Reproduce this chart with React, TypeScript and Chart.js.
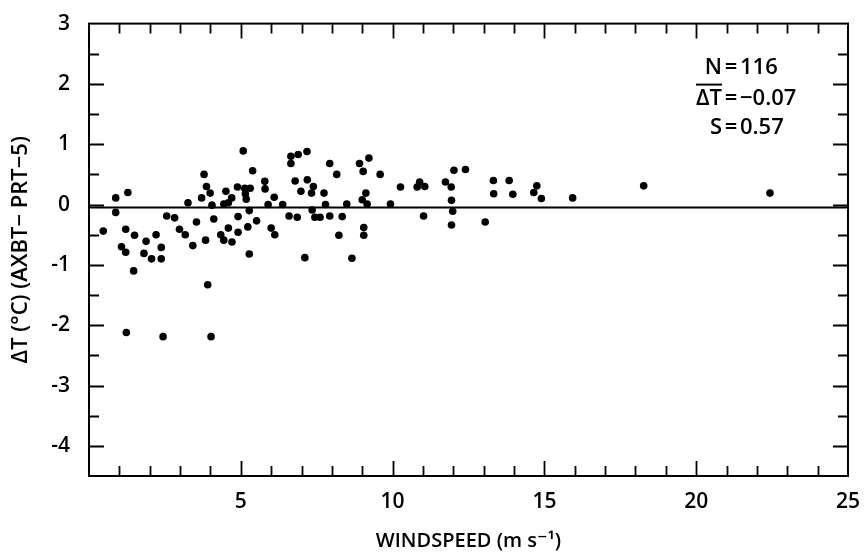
import React, { useEffect, useRef } from "react";
import { Chart, registerables } from "chart.js";

Chart.register(...registerables);

// Wind speed (m s^-1) of each observation
const windspeed = [
  0.47, 0.88, 0.88, 1.28, 1.21, 1.07, 1.21, 1.5, 1.47, 1.88,
  1.81, 2.06, 2.21, 2.38, 2.38, 2.56, 2.82, 2.98, 3.17, 3.26,
  3.42, 3.54, 3.71, 3.79, 3.87, 3.99, 4.05, 3.84, 4.11, 3.91,
  4.34, 4.44, 4.59, 4.51, 4.44, 4.59, 4.7, 4.71, 4.91, 4.91,
  4.89, 5.08, 5.15, 5.18, 5.31, 5.13, 5.39, 5.28, 5.23, 5.28,
  5.52, 5.79, 5.8, 5.9, 6.0, 6.12, 6.1, 6.38, 6.59, 6.86,
  6.65, 6.65, 6.89, 6.79, 6.98, 7.18, 7.19, 7.33, 7.39, 7.11,
  7.35, 7.44, 7.61, 7.74, 7.79, 7.93, 7.93, 8.16, 8.23, 8.34,
  8.49, 8.66, 8.91, 9.03, 9.22, 9.12, 9.0, 9.16, 9.05, 9.05,
  9.59, 9.93, 10.26, 10.89, 10.81, 11.06, 11.02, 11.74, 11.93, 12.02,
  12.4, 11.94, 11.98, 11.94, 13.05, 13.32, 13.84, 13.33, 13.96, 14.75,
  14.65, 14.9, 15.93, 18.27, 22.43, 1.23, 2.44, 4.02,
];

// Temperature difference AXBT - PRT-5 (deg C) of each observation
const deltaT = [
  -0.44, 0.11, -0.13, 0.2, -0.41, -0.7, -0.79, -0.51, -1.1, -0.61,
  -0.81, -0.9, -0.5, -0.71, -0.9, -0.19, -0.22, -0.41, -0.5, 0.03,
  -0.68, -0.29, 0.11, 0.5, 0.3, 0.19, -0.01, -0.59, -0.24, -1.33,
  -0.5, -0.59, -0.39, 0.22, 0.01, 0.03, 0.11, -0.62, -0.2, -0.46,
  0.29, 0.89, 0.18, 0.09, 0.27, 0.27, 0.56, -0.1, -0.37, -0.82,
  -0.27, 0.385, 0.26, 0.0, -0.39, -0.5, 0.12, 0.0, -0.19, -0.21,
  0.8, 0.68, 0.83, 0.39, 0.22, 0.88, 0.41, 0.19, 0.3, -0.88,
  -0.09, -0.21, -0.21, 0.19, 0.0, 0.68, -0.19, 0.5, -0.51, -0.2,
  0.01, -0.89, 0.68, 0.55, 0.77, 0.19, 0.08, 0.01, -0.38, -0.51,
  0.5, 0.01, 0.29, 0.375, 0.29, 0.3, -0.19, 0.375, 0.29, 0.57,
  0.58, 0.07, -0.11, -0.34, -0.29, 0.4, 0.4, 0.18, 0.17, 0.31,
  0.2, 0.1, 0.11, 0.31, 0.19, -2.12, -2.19, -2.19,
];

const meanLineY = -0.05;
const xRange = [0, 25];
const yRange = [-4.5, 3];
const xTickLabels = [5, 10, 15, 20, 25];
const yTickLabels = [-4, -3, -2, -1, 0, 1, 2, 3];
const xMinorStep = 1;
const yMinorStep = 0.5;
const statNames = ["N", "ΔT", "S"];
const statValues = ["116", "−0.07", "0.57"];
const xTitle = "WINDSPEED (m s⁻¹)";
const yTitle = "ΔT (°C) (AXBT− PRT−5)";

const FONT = "'Open Sans', 'DejaVu Sans', sans-serif";

const framePlugin = {
  id: "frameTicks",
  afterDatasetsDraw(chart: any) {
    const { ctx, chartArea: a, scales } = chart;
    const xs = scales.x;
    const ys = scales.y;
    ctx.save();
    ctx.strokeStyle = "#000";
    ctx.lineWidth = 2;
    ctx.strokeRect(a.left, a.top, a.right - a.left, a.bottom - a.top);
    ctx.lineWidth = 1.8;
    ctx.beginPath();
    for (let v = xs.min + xMinorStep; v < xs.max - 1e-9; v += xMinorStep) {
      const px = Math.round(xs.getPixelForValue(v)) + 0.5;
      const len = Math.abs(v % 5) < 1e-6 ? 15 : 10;
      ctx.moveTo(px, a.bottom);
      ctx.lineTo(px, a.bottom - len);
      ctx.moveTo(px, a.top);
      ctx.lineTo(px, a.top + len);
    }
    for (let v = ys.min + yMinorStep; v < ys.max - 1e-9; v += yMinorStep) {
      const py = Math.round(ys.getPixelForValue(v)) + 0.5;
      const len = Math.abs(v - Math.round(v)) < 1e-6 ? 15 : 10;
      ctx.moveTo(a.left, py);
      ctx.lineTo(a.left + len, py);
      ctx.moveTo(a.right, py);
      ctx.lineTo(a.right - len, py);
    }
    ctx.stroke();

    // statistics block
    ctx.fillStyle = "#000";
    ctx.font = `600 22px ${FONT}`;
    ctx.textBaseline = "middle";
    const eqX = a.right - 117;
    const rows = [a.top + 44, a.top + 75, a.top + 104];
    statNames.forEach((name, i) => {
      const y = rows[i];
      ctx.textAlign = "right";
      ctx.fillText(name, eqX - 9, y);
      ctx.textAlign = "center";
      ctx.fillText("=", eqX, y);
      ctx.textAlign = "left";
      ctx.fillText(statValues[i], eqX + 9, y);
      if (i === 1) {
        const w = ctx.measureText(name).width;
        ctx.lineWidth = 2;
        ctx.beginPath();
        ctx.moveTo(eqX - 9 - w, y - 14);
        ctx.lineTo(eqX - 9, y - 14);
        ctx.stroke();
      }
    });
    ctx.restore();
  },
};

export default function App() {
  const ref = useRef<HTMLCanvasElement>(null);

  useEffect(() => {
    if (!ref.current) return;
    const points = windspeed.map((x, i) => ({ x, y: deltaT[i] }));
    const chart = new Chart(ref.current, {
      type: "scatter",
      data: {
        datasets: [
          {
            type: "line",
            data: [
              { x: xRange[0], y: meanLineY },
              { x: xRange[1], y: meanLineY },
            ],
            borderColor: "#000",
            borderWidth: 2,
            pointRadius: 0,
            fill: false,
          } as any,
          {
            data: points,
            backgroundColor: "#000",
            borderWidth: 0,
            pointRadius: 3.8,
          },
        ],
      },
      options: {
        responsive: false,
        animation: false,
        layout: { padding: { top: 20, right: 16, left: 0, bottom: 0 } },
        plugins: { legend: { display: false }, tooltip: { enabled: false } },
        scales: {
          x: {
            type: "linear",
            min: xRange[0],
            max: xRange[1],
            afterBuildTicks: (s: any) => {
              s.ticks = xTickLabels.map((v) => ({ value: v }));
            },
            afterFit: (s: any) => {
              s.height = 77;
            },
            grid: { display: false },
            border: { display: false },
            ticks: {
              color: "#000",
              font: { family: FONT, size: 21, weight: "600" },
              padding: 5,
              maxRotation: 0,
            },
            title: {
              display: true,
              text: xTitle,
              color: "#000",
              font: { family: FONT, size: 20, weight: "600" },
              padding: { top: 0, bottom: 0 },
            },
          },
          y: {
            type: "linear",
            min: yRange[0],
            max: yRange[1],
            afterBuildTicks: (s: any) => {
              s.ticks = yTickLabels.map((v) => ({ value: v }));
            },
            afterFit: (s: any) => {
              s.width = 89;
            },
            grid: { display: false },
            border: { display: false },
            ticks: {
              color: "#000",
              font: { family: FONT, size: 21, weight: "600" },
              padding: 11,
            },
            title: {
              display: true,
              text: yTitle,
              color: "#000",
              font: { family: FONT, size: 22, weight: "600" },
              padding: { top: 8, bottom: 0 },
            },
          },
        },
      },
      plugins: [framePlugin],
    });
    return () => chart.destroy();
  }, []);

  return (
    <div style={{ position: "absolute", left: 0, top: 0, width: 865, height: 553, background: "#fff" }}>
      <canvas ref={ref} width={865} height={553} style={{ display: "block" }} />
    </div>
  );
}
